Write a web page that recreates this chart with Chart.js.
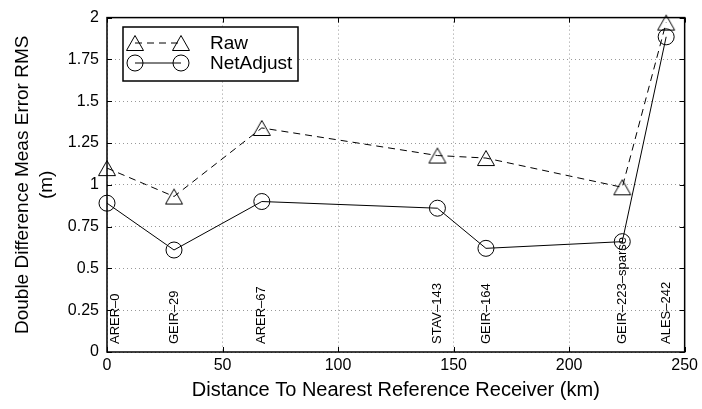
<!DOCTYPE html>
<html>
<head>
<meta charset="utf-8">
<script src="https://cdn.jsdelivr.net/npm/chart.js@4.4.1/dist/chart.umd.min.js"></script>
<style>
  html, body { margin: 0; padding: 0; background: #fff; }
  #wrap { width: 702px; height: 409px; }
</style>
</head>
<body>
<div id="wrap"><canvas id="c" width="702" height="409"></canvas></div>
<script>
// ---- data ----
const distances = [0, 29, 67, 143, 164, 223, 242];
const rawRms = [1.10, 0.93, 1.34, 1.175, 1.16, 0.985, 1.97];
const netAdjustRms = [0.89, 0.61, 0.90, 0.86, 0.62, 0.66, 1.885];
const stationLabels = ['ARER–0', 'GEIR–29', 'ARER–67', 'STAV–143', 'GEIR–164', 'GEIR–223–sparse', 'ALES–242'];
const xTicks = [0, 50, 100, 150, 200, 250];
const yTicks = [0, 0.25, 0.5, 0.75, 1, 1.25, 1.5, 1.75, 2];
const yTickLabels = ['0', '0.25', '0.5', '0.75', '1', '1.25', '1.5', '1.75', '2'];
const seriesNames = ['Raw', 'NetAdjust'];

const FONT = '"Liberation Sans", Arial, Helvetica, sans-serif';

// hollow triangle marker centred on its bounding box (MATLAB style)
function makeTriangle() {
  const c = document.createElement('canvas');
  c.width = 20; c.height = 18;
  const g = c.getContext('2d');
  g.strokeStyle = '#000'; g.lineWidth = 1;
  g.beginPath();
  g.moveTo(10, 1.5); g.lineTo(1.5, 16.5); g.lineTo(18.5, 16.5); g.closePath();
  g.stroke();
  return c;
}
const triImg = makeTriangle();

const toPts = (xs, ys) => xs.map((x, i) => ({ x: x, y: ys[i] }));

const decorPlugin = {
  id: 'decor',
  afterDraw(chart) {
    const ctx = chart.ctx;
    const a = chart.chartArea;
    const xs = chart.scales.x, ys = chart.scales.y;
    ctx.save();
    // station labels (rotated)
    ctx.fillStyle = '#000';
    ctx.font = '13px ' + FONT;
    ctx.textAlign = 'left';
    ctx.textBaseline = 'middle';
    stationLabels.forEach((lab, i) => {
      let px = xs.getPixelForValue(distances[i]);
      if (px < a.left + 8) px = a.left + 8;
      ctx.save();
      ctx.translate(px, a.bottom - 8);
      ctx.rotate(-Math.PI / 2);
      ctx.fillText(lab, 0, 0);
      ctx.restore();
    });
    // box
    ctx.strokeStyle = '#000';
    ctx.lineWidth = 1.5;
    ctx.strokeRect(a.left, a.top, a.right - a.left, a.bottom - a.top);
    // inward ticks
    ctx.lineWidth = 1;
    ctx.beginPath();
    const tl = 5;
    xTicks.forEach(v => {
      const px = Math.round(xs.getPixelForValue(v)) + 0.5;
      ctx.moveTo(px, a.bottom); ctx.lineTo(px, a.bottom - tl);
      ctx.moveTo(px, a.top); ctx.lineTo(px, a.top + tl);
    });
    yTicks.forEach(v => {
      const py = Math.round(ys.getPixelForValue(v)) + 0.5;
      ctx.moveTo(a.left, py); ctx.lineTo(a.left + tl, py);
      ctx.moveTo(a.right, py); ctx.lineTo(a.right - tl, py);
    });
    ctx.stroke();

    // legend
    const lx = 123, ly = 27, lw = 175, lh = 54;
    ctx.fillStyle = '#fff';
    ctx.fillRect(lx, ly, lw, lh);
    ctx.lineWidth = 1.5;
    ctx.strokeStyle = '#000';
    ctx.strokeRect(lx, ly, lw, lh);
    const x1 = 135, x2 = 181, yA = 43, yB = 63;
    ctx.lineWidth = 1;
    ctx.beginPath();
    ctx.setLineDash([7, 5]);
    ctx.moveTo(x1, yA); ctx.lineTo(x2, yA);
    ctx.stroke();
    ctx.setLineDash([]);
    ctx.drawImage(triImg, x1 - 10, yA - 9);
    ctx.drawImage(triImg, x2 - 10, yA - 9);
    ctx.beginPath();
    ctx.moveTo(x1, yB); ctx.lineTo(x2, yB);
    ctx.stroke();
    [x1, x2].forEach(cx => {
      ctx.beginPath();
      ctx.arc(cx, yB, 8, 0, Math.PI * 2);
      ctx.stroke();
    });
    ctx.fillStyle = '#000';
    ctx.font = '19px ' + FONT;
    ctx.textAlign = 'left';
    ctx.textBaseline = 'middle';
    ctx.fillText(seriesNames[0], 210, yA + 1);
    ctx.fillText(seriesNames[1], 210, yB + 1);
    ctx.restore();
  }
};

new Chart(document.getElementById('c'), {
  type: 'line',
  data: {
    datasets: [
      {
        label: seriesNames[0],
        data: toPts(distances, rawRms),
        borderColor: '#000',
        borderWidth: 1,
        borderDash: [7, 5],
        pointStyle: triImg,
        pointBorderColor: '#000',
        pointBackgroundColor: 'rgba(0,0,0,0)',
        tension: 0,
        fill: false,
        clip: false
      },
      {
        label: seriesNames[1],
        data: toPts(distances, netAdjustRms),
        borderColor: '#000',
        borderWidth: 1,
        pointStyle: 'circle',
        pointRadius: 8,
        pointBorderWidth: 1,
        pointBorderColor: '#000',
        pointBackgroundColor: 'rgba(0,0,0,0)',
        tension: 0,
        fill: false,
        clip: false
      }
    ]
  },
  options: {
    responsive: false,
    animation: false,
    devicePixelRatio: 1,
    layout: { padding: { left: 0, right: 15, top: 16, bottom: 0 } },
    plugins: { legend: { display: false }, tooltip: { enabled: false } },
    scales: {
      x: {
        type: 'linear',
        min: 0, max: 250,
        afterBuildTicks: s => { s.ticks = xTicks.map(v => ({ value: v })); },
        afterFit: s => { s.height = 57; },
        ticks: { color: '#000', font: { family: FONT, size: 16 }, padding: 4, maxRotation: 0 },
        grid: { color: '#999', lineWidth: 1, drawTicks: false },
        border: { display: false, dash: [1, 3] },
        title: {
          display: true,
          text: 'Distance To Nearest Reference Receiver (km)',
          color: '#000',
          font: { family: FONT, size: 20, lineHeight: 1.2 },
          padding: { top: 0, bottom: 7 }
        }
      },
      y: {
        min: 0, max: 2,
        afterBuildTicks: s => { s.ticks = yTicks.map(v => ({ value: v })); },
        afterFit: s => { s.width = 107; },
        ticks: {
          color: '#000', font: { family: FONT, size: 16 }, padding: 8,
          callback: v => { const i = yTicks.indexOf(v); return i >= 0 ? yTickLabels[i] : ''; }
        },
        grid: { color: '#999', lineWidth: 1, drawTicks: false },
        border: { display: false, dash: [1, 3] },
        title: {
          display: true,
          text: ['Double Difference Meas Error RMS', '(m)'],
          color: '#000',
          font: { family: FONT, size: 19, lineHeight: 24 / 19 },
          padding: { top: 11, bottom: 0 }
        }
      }
    }
  },
  plugins: [decorPlugin]
});
</script>
</body>
</html>
